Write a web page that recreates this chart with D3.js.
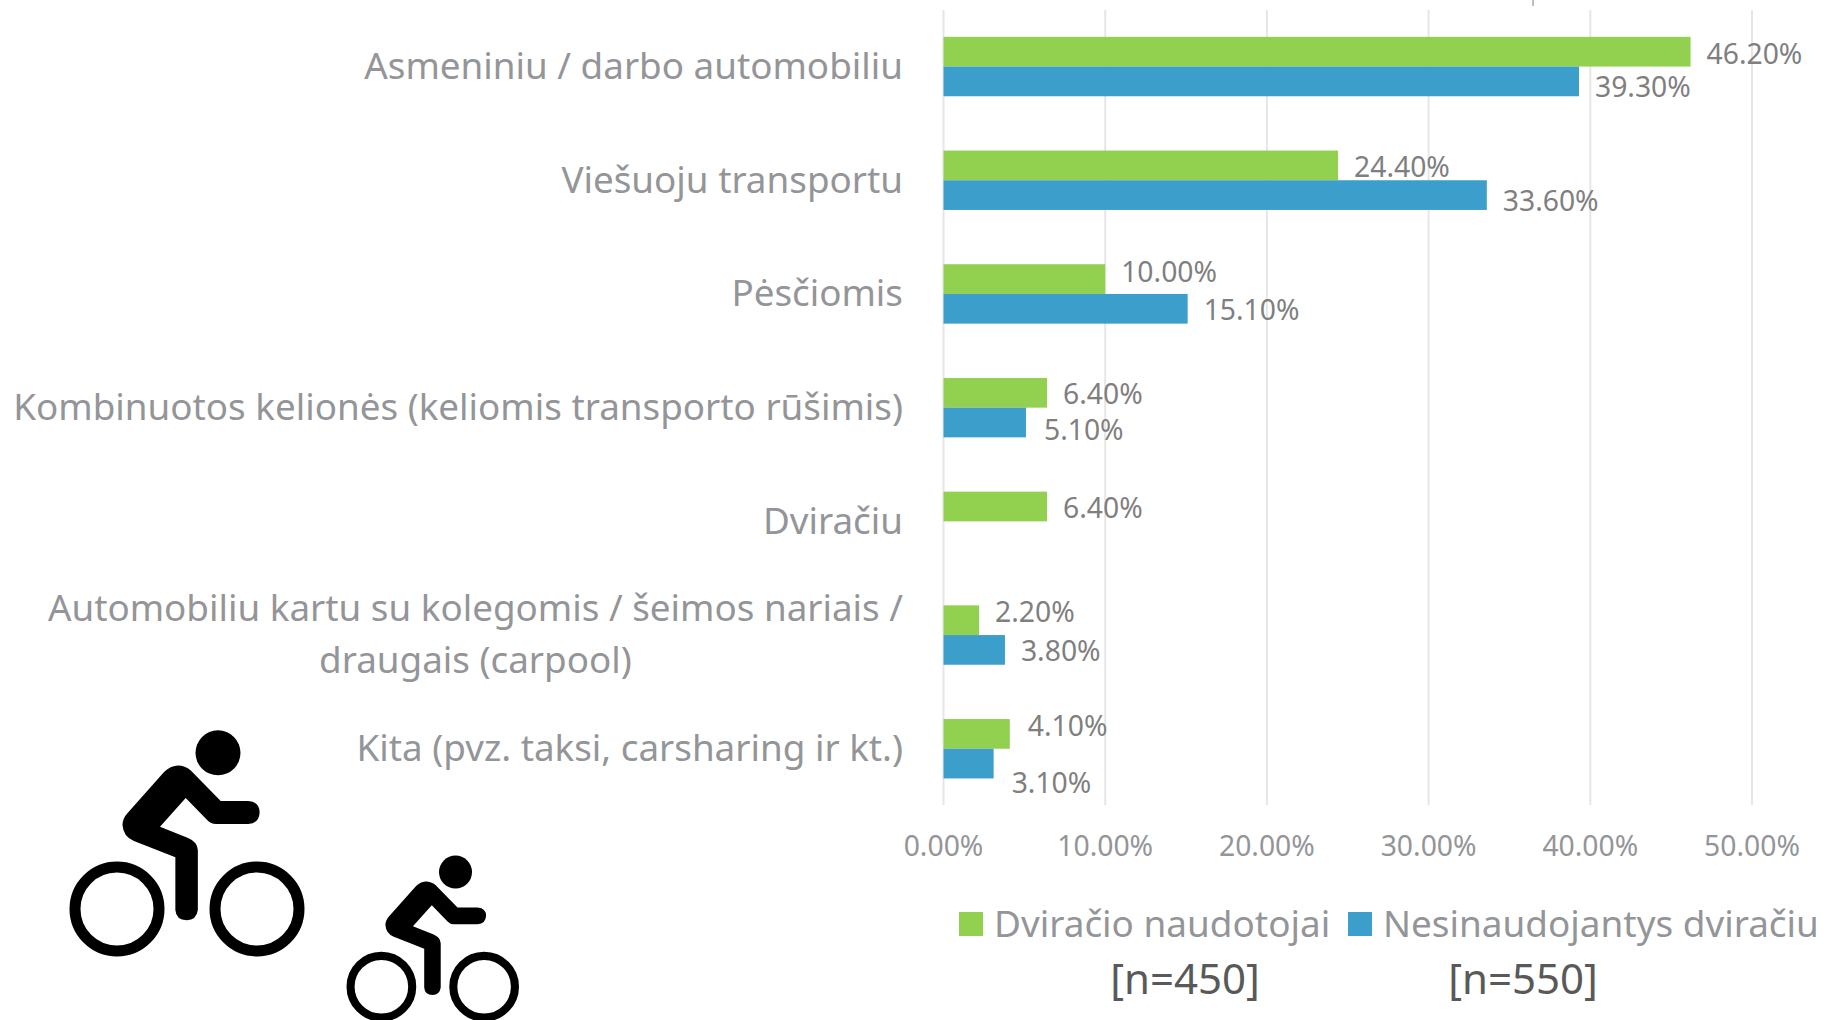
<!DOCTYPE html>
<html><head><meta charset="utf-8">
<script src="https://cdn.jsdelivr.net/npm/d3@7"></script>
<style>html,body{margin:0;padding:0;background:#fff;overflow:hidden}svg{display:block}text{font-family:"Noto Sans",sans-serif}</style>
</head><body><svg id="c" width="1829" height="1020"></svg>
<script>
const categories=["Asmeniniu / darbo automobiliu","Viešuoju transportu","Pėsčiomis","Kombinuotos kelionės (keliomis transporto rūšimis)","Dviračiu","Automobiliu kartu su kolegomis / šeimos nariais / draugais (carpool)","Kita (pvz. taksi, carsharing ir kt.)"];
const seriesNames=["Dviračio naudotojai","Nesinaudojantys dviračiu"];
const sampleSizes=["[n=450]","[n=550]"];
const cyclists=[46.2,24.4,10.0,6.4,6.4,2.2,4.1];
const nonCyclists=[39.3,33.6,15.1,5.1,null,3.8,3.1];
const xTicks=[0,10,20,30,40,50];
const colors=["#92D050","#3C9FCB"];
// manual data-label nudges (px), as in the source chart
const nudgeG=[2,2,-7,1,2,-8,-8];
const nudgeB=[6,6,1,8,0,1,19];
const nudgeXG=[0,0,0,0,0,0,2];
const nudgeXB=[0,0,0,2,0,0,2];

const svg=d3.select("#c");
const x=d3.scaleLinear().domain([0,50]).range([943.5,1752]);
const y=d3.scaleBand().domain(categories).range([9.7,805.6]);
const barH=29.7;
const catC="#939598",lblC="#7f7f7f";

svg.append("g").selectAll("line").data(xTicks).join("line")
 .attr("x1",d=>x(d)).attr("x2",d=>x(d)).attr("y1",10).attr("y2",805)
 .attr("stroke","#e6e6e6").attr("stroke-width",2);
svg.append("line").attr("x1",1533).attr("x2",1533).attr("y1",0).attr("y2",6).attr("stroke","#aaa").attr("stroke-width",1.5);

[cyclists,nonCyclists].forEach((vals,s)=>{
  const g=svg.append("g");
  const rows=categories.map((c,i)=>({c,i,v:vals[i]})).filter(d=>d.v!=null);
  g.selectAll("rect").data(rows).join("rect")
   .attr("x",x(0)).attr("width",d=>x(d.v)-x(0))
   .attr("y",d=>y(d.c)+y.bandwidth()/2-(s===0?barH:0)).attr("height",barH)
   .attr("fill",colors[s]);
  g.selectAll("text").data(rows).join("text")
   .attr("x",d=>x(d.v)+16+(s===0?nudgeXG:nudgeXB)[d.i])
   .attr("y",d=>y(d.c)+y.bandwidth()/2+(s===0?-barH/2:barH/2)+(s===0?nudgeG:nudgeB)[d.i])
   .attr("dy","0.35em").attr("font-size",28.3).attr("fill",lblC)
   .text(d=>d.v.toFixed(2)+"%");
});

const right=903;
categories.forEach((c,i)=>{
  const cy=y(c)+y.bandwidth()/2-0.5;
  const t=(txt,xx,yy,a)=>svg.append("text").attr("x",xx).attr("y",yy).attr("dy","0.35em").attr("text-anchor",a)
    .attr("font-size",36.8).attr("fill",catC).text(txt);
  if(i===5){
    const a=t("Automobiliu kartu su kolegomis / šeimos nariais /",right,608,"end");
    const w=a.node().getComputedTextLength();
    t("draugais (carpool)",right-w/2,660,"middle");
  } else t(c,right,cy,"end");
});

svg.append("g").selectAll("text").data(xTicks).join("text")
 .attr("x",d=>x(d)).attr("y",846).attr("dy","0.35em").attr("text-anchor","middle")
 .attr("font-size",28.3).attr("fill",catC).text(d=>d.toFixed(2)+"%");

const legX=[959,1348],legT=[994,1383],nX=[1185,1523];
seriesNames.forEach((n,i)=>{
  svg.append("rect").attr("x",legX[i]).attr("y",912).attr("width",24).attr("height",24).attr("fill",colors[i]);
  svg.append("text").attr("x",legT[i]).attr("y",924).attr("dy","0.35em").attr("font-size",36.9).attr("fill",catC).text(n);
  svg.append("text").attr("x",nX[i]).attr("y",979).attr("dy","0.35em").attr("text-anchor","middle").attr("font-size",42).attr("fill","#595959").text(sampleSizes[i]);
});

// cyclist pictogram
const bodyPath="M460 215Q497 180 535 212L618 303L695 303Q727 305 727 338Q725 370 695 372L605 372Q590 372 580 360L520 294L448 380L525 413Q553 425 554 450L554 630Q550 660 523 661Q493 660 491 630L491 472L375 423Q345 410 343 375Q343 355 358 338Z";
function icon(tf){
  const g=svg.append("g").attr("transform",tf);
  g.append("ellipse").attr("cx",218).attr("cy",752.8).attr("rx",22.5).attr("ry",22.5);
  [117,257].forEach(cx=>g.append("circle").attr("cx",cx).attr("cy",909).attr("r",42).attr("fill","none").attr("stroke","#000").attr("stroke-width",11));
  g.append("path").attr("transform","translate(0,700) scale(0.35714,0.33333)").attr("d",bodyPath);
}
icon("");
icon("translate(295.5,319.5) scale(0.734)");
</script></body></html>
